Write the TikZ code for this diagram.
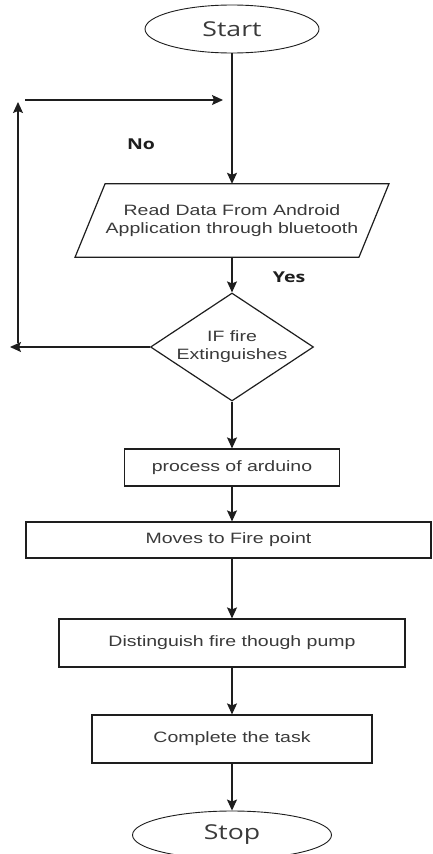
\documentclass[tikz,border=0pt]{standalone}
\usepackage{fontspec}
\setmainfont{Liberation Sans}[FakeStretch=1.3]
\newfontfamily\ofont{Open Sans}[FakeStretch=1.3]
\usetikzlibrary{shapes.geometric,arrows.meta,calc}
\definecolor{txt}{HTML}{3A3A3A}
\definecolor{ln}{HTML}{1E1E1E}
\begin{document}
\begin{tikzpicture}[x=1pt,y=-1pt,
  every node/.style={font=\fontsize{15}{17.5}\selectfont, text=txt},
  box/.style={draw=ln, line width=1.2pt, rectangle, inner sep=0pt},
  term/.style={draw=ln, line width=0.9pt, ellipse, inner sep=0pt, font=\ofont\fontsize{20.5}{24}\selectfont},
  arr/.style={draw=ln, line width=1.2pt, -{Stealth[length=11pt,width=10pt,inset=2pt]}},
  lbl/.style={font=\ofont\bfseries\fontsize{15}{18}\selectfont, text=ln}]
\useasboundingbox (0,0) rectangle (433,854);
\fill[white] (0,0) rectangle (433,854);
\clip (0,0) rectangle (433,854);

\node[term, minimum width=174pt, minimum height=48pt] (start) at (232,29) {Start};
\node[inner sep=0pt, minimum width=283.5pt, minimum height=73pt, align=center] (read) at (232,220.5) {Read Data From Android\\Application through bluetooth};
\draw[ln, line width=1.2pt] ($(read.north west)+(15,0)$) -- ($(read.north east)+(15,0)$) -- ($(read.south east)+(-15,0)$) -- ($(read.south west)+(-15,0)$) -- cycle;
\node[draw=ln, line width=1.2pt, diamond, minimum width=163pt, minimum height=108pt, inner sep=0pt] (dec) at (232,347) {\makebox[0pt]{\begin{tabular}{@{}c@{}}IF fire\\Extinguishes\end{tabular}}};
\node[box, minimum width=215pt, minimum height=37pt] (proc) at (232,467.5) {process of arduino};
\node[box, minimum width=405pt, minimum height=36pt] (moves) at (228.5,540) {Moves to Fire point};
\node[box, minimum width=346pt, minimum height=48pt] (dist) at (232,643) {Distinguish fire though pump};
\node[box, minimum width=280pt, minimum height=48pt] (comp) at (232,739) {Complete the task};
\node[term, minimum width=199pt, minimum height=48pt] (stop) at (232,835) {Stop};

\draw[arr] (start.south) -- (start.south |- read.north);
\draw[arr] (read.south) -- (dec.north);
\draw[arr] (dec.south) -- (proc.north);
\draw[arr] (proc.south) -- (proc.south |- moves.north);
\draw[arr] (dist.north |- moves.south) -- (dist.north);
\draw[arr] (dist.south) -- (comp.north);
\draw[arr] (comp.south) -- (stop.north);

\coordinate (lt) at (10,347);
\draw[arr] (dec.west) -- (lt);
\coordinate (vb) at (18,343);
\coordinate (vt) at (18,102);
\draw[arr] (vb) -- (vt);
\coordinate (hl) at (25,100);
\coordinate (hr) at (223,100);
\draw[arr] (hl) -- (hr);

\node[lbl] (no) at (141,144) {No};
\node[lbl] (yes) at (289,277) {Yes};
\end{tikzpicture}
\end{document}
